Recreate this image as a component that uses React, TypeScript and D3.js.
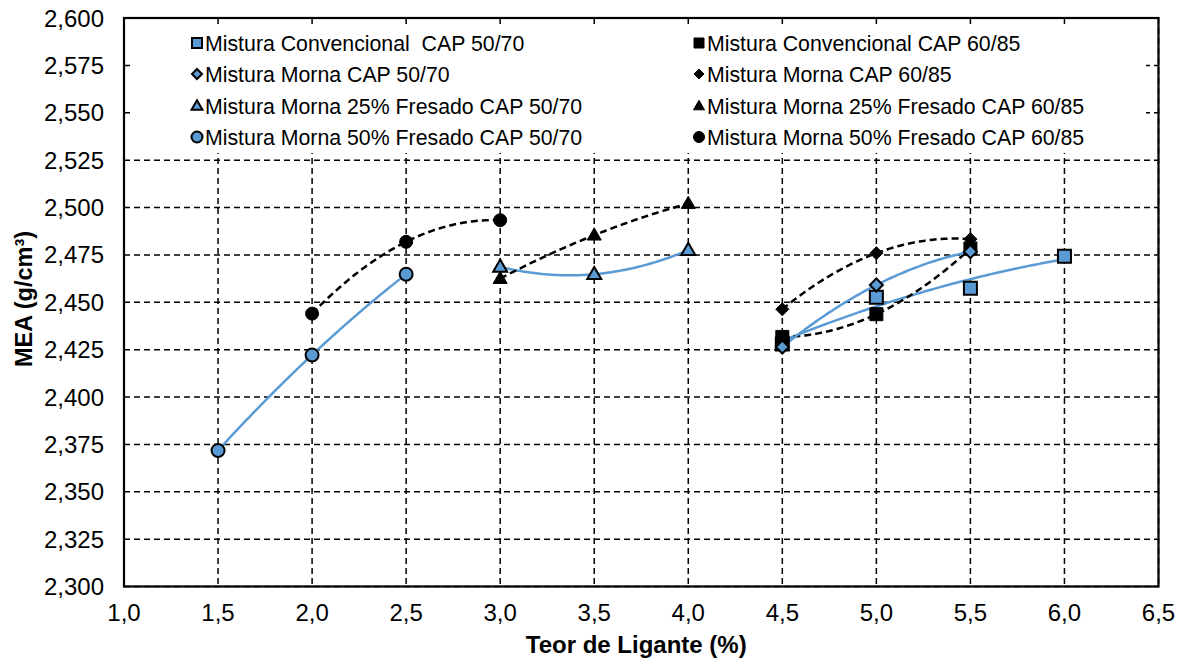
import React from 'react';
import * as d3 from 'd3';

const xTicks = [1.0, 1.5, 2.0, 2.5, 3.0, 3.5, 4.0, 4.5, 5.0, 5.5, 6.0, 6.5];
const yTicks = [2.3, 2.325, 2.35, 2.375, 2.4, 2.425, 2.45, 2.475, 2.5, 2.525, 2.55, 2.575, 2.6];

const seriesNames = [
  'Mistura Convencional  CAP 50/70',
  'Mistura Convencional CAP 60/85',
  'Mistura Morna CAP 50/70',
  'Mistura Morna CAP 60/85',
  'Mistura Morna 25% Fresado CAP 50/70',
  'Mistura Morna 25% Fresado CAP 60/85',
  'Mistura Morna 50% Fresado CAP 50/70',
  'Mistura Morna 50% Fresado CAP 60/85',
];

const xConv5070 = [4.5, 5.0, 5.5, 6.0];
const yConv5070 = [2.428, 2.4526, 2.4574, 2.4743];
const xConv6085 = [4.5, 5.0, 5.5];
const yConv6085 = [2.4317, 2.4437, 2.4784];
const xMorna5070 = [4.5, 5.0, 5.5];
const yMorna5070 = [2.4264, 2.4591, 2.4767];
const xMorna6085 = [4.5, 5.0, 5.5];
const yMorna6085 = [2.4463, 2.4759, 2.4833];
const xF25_5070 = [3.0, 3.5, 4.0];
const yF25_5070 = [2.4687, 2.4648, 2.4775];
const xF25_6085 = [3.0, 3.5, 4.0];
const yF25_6085 = [2.4625, 2.4854, 2.5021];
const xF50_5070 = [1.5, 2.0, 2.5];
const yF50_5070 = [2.3718, 2.4222, 2.4648];
const xF50_6085 = [2.0, 2.5, 3.0];
const yF50_6085 = [2.444, 2.4819, 2.4933];

const seriesX = [xConv5070, xConv6085, xMorna5070, xMorna6085, xF25_5070, xF25_6085, xF50_5070, xF50_6085];
const seriesY = [yConv5070, yConv6085, yMorna5070, yMorna6085, yF25_5070, yF25_6085, yF50_5070, yF50_6085];

const BLUE = '#5B9BD5';
type Shape = 'square' | 'diamond' | 'triangle' | 'circle';
const shapes: Shape[] = ['square', 'square', 'diamond', 'diamond', 'triangle', 'triangle', 'circle', 'circle'];
const isBlue = [true, false, true, false, true, false, true, false];

const W = 1182, H = 665;
const L = 124, R = 1158.5, T = 18, B = 586.5;

// quadratic least squares (Excel polynomial order-2 trendline)
function quadFit(xs: number[], ys: number[]) {
  const n = xs.length;
  let s1 = 0, s2 = 0, s3 = 0, s4 = 0, t0 = 0, t1 = 0, t2 = 0;
  for (let i = 0; i < n; i++) {
    const x = xs[i], y = ys[i];
    s1 += x; s2 += x * x; s3 += x * x * x; s4 += x * x * x * x;
    t0 += y; t1 += x * y; t2 += x * x * y;
  }
  const M = [[n, s1, s2], [s1, s2, s3], [s2, s3, s4]];
  const v = [t0, t1, t2];
  const det = (m: number[][]) =>
    m[0][0] * (m[1][1] * m[2][2] - m[1][2] * m[2][1]) -
    m[0][1] * (m[1][0] * m[2][2] - m[1][2] * m[2][0]) +
    m[0][2] * (m[1][0] * m[2][1] - m[1][1] * m[2][0]);
  const D = det(M);
  const coef = [0, 1, 2].map((k) => {
    const mk = M.map((row, r) => row.map((c, j) => (j === k ? v[r] : c)));
    return det(mk) / D;
  });
  return (x: number) => coef[0] + coef[1] * x + coef[2] * x * x;
}

function markerPath(shape: Shape, s: number) {
  const h = s / 2;
  if (shape === 'square') return `M${-h},${-h}H${h}V${h}H${-h}Z`;
  if (shape === 'diamond') return `M0,${-h}L${h},0L0,${h}L${-h},0Z`;
  if (shape === 'triangle') {
    const th = s * 0.87;
    return `M0,${-th * 0.6}L${h},${th * 0.4}L${-h},${th * 0.4}Z`;
  }
  return `M${h},0A${h},${h} 0 1,1 ${-h},0A${h},${h} 0 1,1 ${h},0Z`;
}

const plotSize: Record<Shape, number> = { square: 13, diamond: 13, triangle: 14, circle: 13 };
const legSize: Record<Shape, number> = { square: 10, diamond: 10, triangle: 11, circle: 11 };

export default function App() {
  const x = d3.scaleLinear().domain([1.0, 6.5]).range([L, R]);
  const y = d3.scaleLinear().domain([2.3, 2.6]).range([B, T]);
  const fmtY = (v: number) => d3.format('.3f')(v).replace('.', ',');
  const fmtX = (v: number) => d3.format('.1f')(v).replace('.', ',');
  const line = d3.line<[number, number]>().x((d) => x(d[0])).y((d) => y(d[1]));

  const trend = seriesX.map((xs, i) => {
    const f = quadFit(xs, seriesY[i]);
    const x0 = d3.min(xs) as number, x1 = d3.max(xs) as number;
    const pts: [number, number][] = d3.range(0, 101).map((k) => {
      const xv = x0 + ((x1 - x0) * k) / 100;
      return [xv, f(xv)];
    });
    return line(pts) as string;
  });

  const legCols = [197, 699];
  const legRows = [43, 74, 106, 137];

  return (
    <svg width={W} height={H} style={{ position: 'absolute', left: 0, top: 0, background: '#fff' }}
      fontFamily="Arial, 'Liberation Sans', sans-serif">
      <rect x={0} y={0} width={W} height={H} fill="#fff" />
      {/* grid */}
      {yTicks.map((t) => (
        <line key={'gy' + t} x1={L} x2={R} y1={y(t)} y2={y(t)} stroke="#000" strokeWidth={1.5} strokeDasharray="6,4" />
      ))}
      {xTicks.map((t) => (
        <line key={'gx' + t} x1={x(t)} x2={x(t)} y1={T} y2={B} stroke="#000" strokeWidth={1.5} strokeDasharray="6,4" />
      ))}
      {/* legend background */}
      <rect x={133} y={25} width={1013} height={128} fill="#fff" />
      {/* trendlines */}
      {trend.map((d, i) => (
        <path key={'t' + i} d={d} fill="none" stroke={isBlue[i] ? BLUE : '#000'} strokeWidth={2.5}
          strokeDasharray={isBlue[i] ? undefined : '7,4'} />
      ))}
      {/* markers */}
      {seriesX.map((xs, i) =>
        xs.map((xv, j) => (
          <path key={'m' + i + '-' + j} d={markerPath(shapes[i], plotSize[shapes[i]])}
            transform={`translate(${x(xv)},${y(seriesY[i][j])})`}
            fill={isBlue[i] ? BLUE : '#000'} stroke="#000" strokeWidth={isBlue[i] ? 2 : 1} />
        ))
      )}
      {/* frame */}
      <rect x={L} y={T} width={R - L} height={B - T} fill="none" stroke="#000" strokeWidth={2.2} />
      {/* y tick labels */}
      {yTicks.map((t) => (
        <text key={'ly' + t} x={104} y={y(t) + 8.5} textAnchor="end" fontSize={24} fill="#000">{fmtY(t)}</text>
      ))}
      {xTicks.map((t) => (
        <text key={'lx' + t} x={x(t)} y={621} textAnchor="middle" fontSize={24} fill="#000">{fmtX(t)}</text>
      ))}
      {/* axis titles */}
      <text x={(L + R) / 2 - 5} y={653} textAnchor="middle" fontSize={24} fontWeight="bold">Teor de Ligante (%)</text>
      <text transform={`translate(32,${299}) rotate(-90)`} textAnchor="middle" fontSize={23.5} fontWeight="bold">MEA (g/cm³)</text>
      {/* legend */}
      {seriesNames.map((name, i) => {
        const cx = legCols[i % 2];
        const cy = legRows[Math.floor(i / 2)];
        return (
          <g key={'lg' + i}>
            <path d={markerPath(shapes[i], legSize[shapes[i]])} transform={`translate(${cx},${cy})`}
              fill={isBlue[i] ? BLUE : '#000'} stroke="#000" strokeWidth={isBlue[i] ? 2 : 1} />
            <text x={cx + 8} y={cy + 7.5} fontSize={21.3} fill="#000" style={{ whiteSpace: 'pre' }}>{name}</text>
          </g>
        );
      })}
    </svg>
  );
}
